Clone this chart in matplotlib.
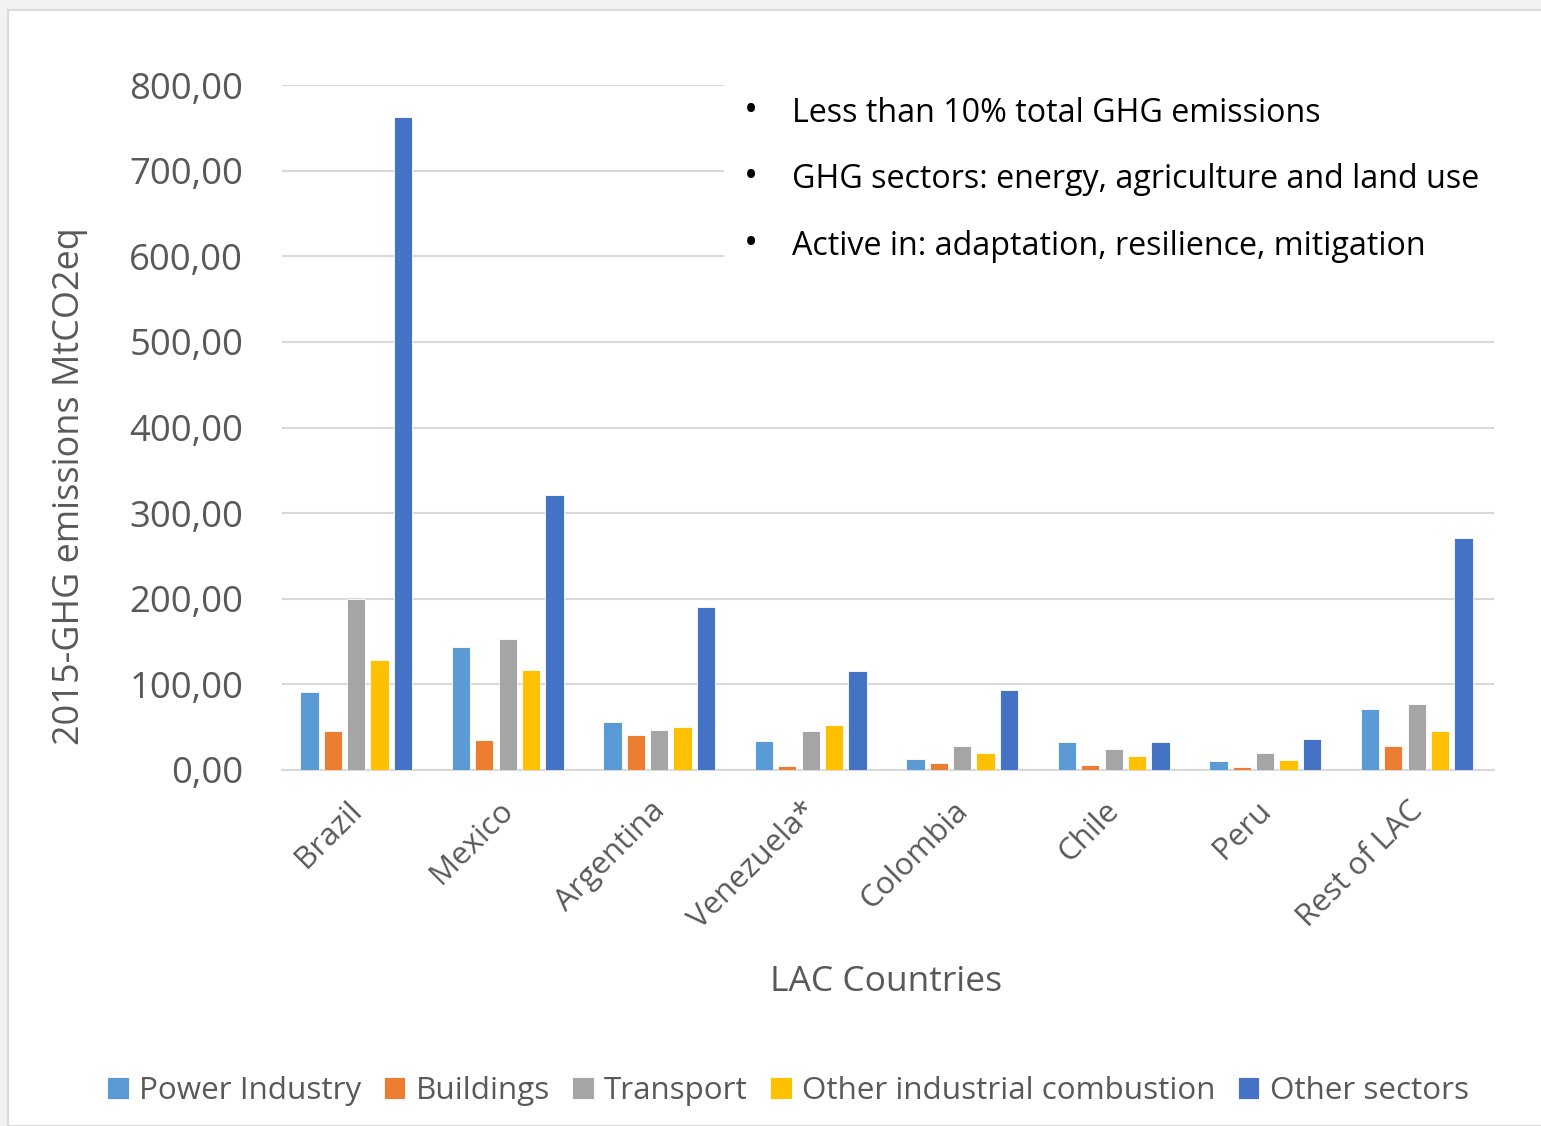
import matplotlib
matplotlib.use("Agg")
import matplotlib.pyplot as plt
from matplotlib.patches import Rectangle
import matplotlib.transforms as mtransforms
import numpy as np

countries = ["Brazil", "Mexico", "Argentina", "Venezuela*", "Colombia", "Chile", "Peru", "Rest of LAC"]
power_industry = [91.4, 143.8, 55.9, 33.3, 12.9, 32.4, 10.5, 71.5]
buildings = [45.7, 35.6, 41.0, 5.1, 7.8, 5.5, 3.5, 28.0]
transport = [200.0, 152.9, 46.9, 45.7, 28.0, 24.6, 19.5, 76.8]
other_industrial = [128.6, 117.2, 49.7, 52.4, 19.5, 16.8, 11.7, 46.0]
other_sectors = [763.0, 321.0, 190.7, 115.7, 93.4, 32.4, 36.3, 271.0]
series_names = ["Power Industry", "Buildings", "Transport", "Other industrial combustion", "Other sectors"]
colors = ["#5B9BD5", "#ED7D31", "#A5A5A5", "#FFC000", "#4472C4"]
yticks = [0, 100, 200, 300, 400, 500, 600, 700, 800]
bullets = ["Less than 10% total GHG emissions",
           "GHG sectors: energy, agriculture and land use",
           "Active in: adaptation, resilience, mitigation"]

FONT = "Open Sans"
plt.rcParams['font.family'] = [FONT, 'DejaVu Sans']

W, H = 1541, 1126
fig = plt.figure(figsize=(W / 100, H / 100), dpi=100)
fig.patch.set_facecolor("#f2f2f2")

def fx(px):
    return px / W

def fy(py):
    return 1 - py / H

# white chart panel
fig.add_artist(Rectangle((fx(8), 0), 1 - fx(8) + 0.01, fy(10), transform=fig.transFigure,
                         facecolor="white", edgecolor="#d9d9d9", linewidth=1.5, zorder=0))

ax = fig.add_axes([fx(282), fy(770), fx(1494) - fx(282), fy(85) - fy(770)])
ax.set_zorder(1)
ax.patch.set_visible(False)

x = np.arange(len(countries))
data = [power_industry, buildings, transport, other_industrial, other_sectors]
slot = 0.1545
bw = 0.121
for j, (vals, c, name) in enumerate(zip(data, colors, series_names)):
    ax.bar(x + (j - 2) * slot - 0.01, vals, width=bw, color=c, label=name, zorder=3,
           edgecolor="white", linewidth=0.6)

ax.set_xlim(-0.5, len(countries) - 0.5)
ax.set_ylim(0, 800)
ax.set_yticks(yticks)
ax.set_yticklabels([f"{v:.2f}".replace(".", ",") for v in yticks])
ax.yaxis.grid(True, color="#d9d9d9", linewidth=1.5, zorder=0)
ax.set_axisbelow(True)
for s in ["top", "right", "left"]:
    ax.spines[s].set_visible(False)
ax.spines["bottom"].set_color("#d9d9d9")
ax.spines["bottom"].set_linewidth(1.5)
ax.tick_params(axis="y", length=0, pad=28, labelsize=26.3, labelcolor="#595959")
ax.tick_params(axis="x", length=0, pad=20, labelsize=22.5, labelcolor="#595959")
ax.set_xticks(x)
ax.set_xticklabels(countries, rotation=45, ha="right", va="top", rotation_mode="anchor")
offset = mtransforms.ScaledTranslation(-11 / 100, 2 / 100, fig.dpi_scale_trans)
for lab in ax.get_xticklabels():
    lab.set_transform(lab.get_transform() + offset)

# y label and x label
fig.text(fx(70), fy(486), "2015-GHG emissions MtCO2eq", rotation=90, ha="center", va="center",
         fontsize=25.9, color="#595959")
fig.text(fx(886), fy(982), "LAC Countries", ha="center", va="center", fontsize=25.5, color="#595959")

# text box covering gridlines
fig.add_artist(Rectangle((fx(724), fy(290)), fx(1541) - fx(724), fy(60) - fy(290),
                         transform=fig.transFigure, facecolor="white", edgecolor="none", zorder=2))
for i, b in enumerate(bullets):
    yb = 122 + i * 66.5
    fig.text(fx(744), fy(yb), "•", ha="left", va="baseline", fontsize=27, color="black", zorder=3)
    fig.text(fx(792), fy(yb), b, ha="left", va="baseline", fontsize=23.25, color="black", zorder=3)

# legend
handles, labels = ax.get_legend_handles_labels()
leg = fig.legend(handles, labels, loc="center", bbox_to_anchor=(fx(788), fy(1091)), ncol=5,
                 frameon=False, fontsize=22.6, handlelength=0.68, handleheight=0.68,
                 handletextpad=0.33, columnspacing=0.72, labelcolor="#595959")

fig.savefig("out.png", dpi=100, facecolor=fig.get_facecolor())
